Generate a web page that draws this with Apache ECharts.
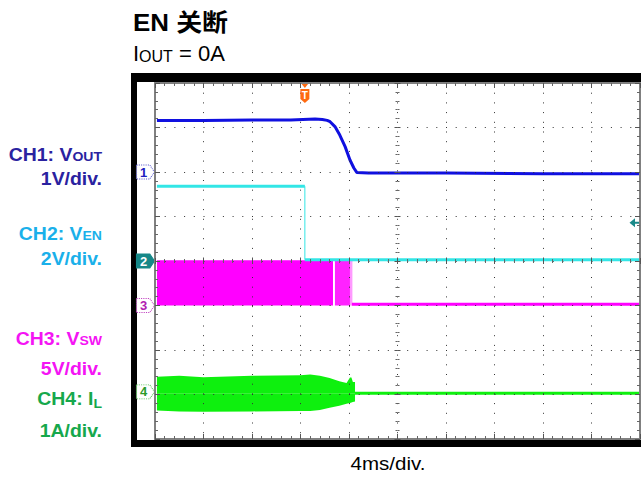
<!DOCTYPE html>
<html><head><meta charset="utf-8">
<script src="https://cdn.jsdelivr.net/npm/echarts@6/dist/echarts.min.js"></script>
<style>html,body{margin:0;padding:0;background:#fff}#c{width:641px;height:477px}</style>
</head><body><div id="c"></div>
<script>
// Time in divisions (-5 .. 5, 4 ms/div); levels in screen divisions (-4 .. 4)
const chRef = [2.0, 0.0, -1.0, -2.94];            // channel ground markers 1..4

const ch1Time  = [-4.96, -4.0, -3.0, -2.2, -1.7, -1.55, -1.45, -1.39, -1.29, -1.19, -1.08, -0.98, -0.90, -0.84, -0.6, 1.0, 3.0, 4.99];
const ch1Level = [3.16, 3.16, 3.17, 3.17, 3.19, 3.18, 3.16, 3.13, 3.02, 2.83, 2.57, 2.27, 2.09, 1.99, 1.98, 1.98, 1.96, 1.96];

const ch2Time  = [-4.96, -1.91, -1.91, 4.99];
const ch2Level = [1.68, 1.68, 0.03, 0.03];
const trigTime = -1.91, trigLevel = 0.86;

const ch3BandTime  = [-4.96, -1.33];
const ch3BandTop   = [0.0, 0.0];
const ch3PulseTime = [-1.29, -0.98];
const ch3PulseTop  = [0.0, 0.0];
const ch3FadeTime  = [-0.98, -0.93];
const ch3FadeTop   = [0.0, 0.0];
const ch3LowTime   = [-0.94, 4.99];
const ch3Low       = [-0.97, -0.97];

const ch4Time   = [-4.96, -4.5, -4.0, -3.0, -2.0, -1.8, -1.6, -1.4, -1.2, -1.05, -0.98, -0.95, -0.92, -0.876];
const ch4Top    = [-2.60, -2.58, -2.61, -2.58, -2.57, -2.55, -2.58, -2.63, -2.70, -2.74, -2.62, -2.62, -2.72, -2.72];
const ch4Bottom = [-3.36, -3.38, -3.39, -3.38, -3.37, -3.37, -3.35, -3.30, -3.25, -3.21, -3.19, -3.18, -3.17, -3.16];
const ch4Mid    = -2.97;
const ch4FlatTime = [-0.876, 4.99];
const ch4Flat     = [-2.97, -2.97];

const zip = (a, b) => a.map((v, i) => [v, b[i]]);

const FONT = '"Liberation Sans", Arial, "Noto Sans CJK SC", sans-serif';
const C1 = '#1010e0', C2 = '#33e6e6', C3 = '#ff00ff', C4 = '#0ef00e';
const L1 = '#2a22a0', L2 = '#1ab0ea', L3 = '#f414f4', L4 = '#16a84c';

function xA(pos, center, inside, grid) {
  return {
    type: 'value', min: -5, max: 5, interval: 1, position: pos, z: 5,
    axisLine: { show: true, onZero: center, lineStyle: { color: '#808080', width: 2, opacity: center ? 0 : 1 } },
    axisTick: { show: true, inside: inside, length: center ? 3 : 5, lineStyle: { color: '#555' } },
    minorTick: { show: true, splitNumber: 5, length: center ? 2 : 3, lineStyle: { color: '#666' } },
    axisLabel: { show: false },
    splitLine: { show: !!grid, lineStyle: { color: '#333', width: 1, type: [1, 8.7] } }
  };
}
function yA(pos, center, inside, grid) {
  return {
    type: 'value', min: -4, max: 4, interval: 1, position: pos, z: 5,
    axisLine: { show: true, onZero: center, lineStyle: { color: '#808080', width: 2, opacity: center ? 0 : 1 } },
    axisTick: { show: true, inside: inside, length: center ? 3 : 5, lineStyle: { color: '#555' } },
    minorTick: { show: true, splitNumber: 5, length: center ? 2 : 3, lineStyle: { color: '#666' } },
    axisLabel: { show: false },
    splitLine: { show: !!grid, lineStyle: { color: '#333', width: 1, type: [1, 8.7] } }
  };
}

const pent = 'path://M0,0 L14,0 L19,7 L14,14 L0,14 Z';
function chMarker(idx, fill, border, txt) {
  return {
    coord: [-5, chRef[idx]], symbol: pent, symbolSize: [18, 14], symbolOffset: [-9.5, 0],
    itemStyle: { color: fill, borderColor: border, borderWidth: 1, borderType: fill === '#fff' ? 'dotted' : 'solid' },
    label: { show: true, formatter: String(idx + 1), color: txt, fontSize: 13, fontWeight: 'bold', fontFamily: FONT, offset: [-2, 0] }
  };
}

function lbl(text, y, color, rich) {
  const st = { text: text, fill: color, fontSize: 18, fontWeight: 'bold', fontFamily: FONT, align: 'right', verticalAlign: 'middle' };
  if (rich) st.rich = rich;
  return { type: 'text', x: 102, y: y, scaleX: 1.08, z: 20, style: st };
}
function subRich(color) {
  return {
    a: { fontSize: 18, fontWeight: 'bold', fontFamily: FONT, fill: color, color: color, verticalAlign: 'bottom' },
    s: { fontSize: 13, fontWeight: 'bold', fontFamily: FONT, fill: color, color: color, verticalAlign: 'bottom' },
    l: { fontSize: 13, fontWeight: 'bold', fontFamily: FONT, fill: color, color: color, verticalAlign: 'bottom', padding: [0, 0, -3, 0] }
  };
}

const chart = echarts.init(document.getElementById('c'), null, { renderer: 'svg' });
chart.setOption({
  animation: false,
  backgroundColor: '#ffffff',
  grid: { left: 155, right: 1, top: 83, bottom: 38, containLabel: false },
  xAxis: [xA('bottom', false, true, true), xA('top', false, true, false), xA('bottom', true, true, false), xA('bottom', true, false, false)],
  yAxis: [yA('left', false, true, true), yA('right', false, true, false), yA('left', true, true, false), yA('left', true, false, false)],
  graphic: [
    { type: 'rect', z: -10, shape: { x: 131, y: 73, width: 510, height: 374 }, style: { fill: '#000' } },
    { type: 'rect', z: -9, shape: { x: 137, y: 82, width: 504, height: 358 }, style: { fill: '#fff' } },
    { type: 'text', x: 133, y: 22, scaleX: 1.08, z: 20, style: { text: 'EN 关断', fill: '#000', fontSize: 24, fontWeight: 'bold', fontFamily: FONT, align: 'left', verticalAlign: 'middle' } },
    { type: 'text', x: 133, y: 53, z: 20, style: { text: '{a|I}{s|OUT}{a| = 0A}', fill: '#000', align: 'left', verticalAlign: 'middle',
        rich: { a: { fontSize: 22, fontFamily: FONT, fill: '#000', verticalAlign: 'bottom' }, s: { fontSize: 16, fontFamily: FONT, fill: '#000', verticalAlign: 'bottom' } } } },
    { type: 'text', x: 388, y: 463, scaleX: 1.08, z: 20, style: { text: '4ms/div.', fill: '#000', fontSize: 19, fontFamily: FONT, align: 'center', verticalAlign: 'middle' } },
    lbl('{a|CH1: V}{s|OUT}', 154.5, L1, subRich(L1)),
    lbl('1V/div.', 178.5, L1),
    lbl('{a|CH2: V}{s|EN}', 233.5, L2, subRich(L2)),
    lbl('2V/div.', 258.5, L2),
    lbl('{a|CH3: V}{s|SW}', 338.5, L3, subRich(L3)),
    lbl('5V/div.', 368.5, L3),
    lbl('{a|CH4: I}{l|L}', 398.5, L4, subRich(L4)),
    lbl('1A/div.', 430.5, L4)
  ],
  series: [
    { type: 'line', name: 'CH3 band', data: zip(ch3BandTime, ch3BandTop), showSymbol: false, z: 2,
      lineStyle: { color: C3, width: 1.5 }, areaStyle: { color: C3, opacity: 1, origin: chRef[2] },
      markPoint: { data: [chMarker(2, '#fff', '#c040c0', '#b020b0')] } },
    { type: 'line', name: 'CH3 pulses', data: zip(ch3PulseTime, ch3PulseTop), showSymbol: false, z: 2,
      lineStyle: { color: '#ff22ff', width: 1 }, areaStyle: { color: '#ff22ff', opacity: 1, origin: chRef[2] } },
    { type: 'line', name: 'CH3 fade', data: zip(ch3FadeTime, ch3FadeTop), showSymbol: false, z: 2,
      lineStyle: { color: '#ff99ff', width: 1 }, areaStyle: { color: '#ff99ff', opacity: 1, origin: chRef[2] } },
    { type: 'line', name: 'CH3', data: zip(ch3LowTime, ch3Low), showSymbol: false, z: 2,
      lineStyle: { color: C3, width: 3 } },
    { type: 'line', name: 'CH4 top', data: zip(ch4Time, ch4Top), showSymbol: false, z: 2,
      lineStyle: { width: 0 }, areaStyle: { color: C4, opacity: 1, origin: ch4Mid } },
    { type: 'line', name: 'CH4 bottom', data: zip(ch4Time, ch4Bottom), showSymbol: false, z: 2,
      lineStyle: { width: 0 }, areaStyle: { color: C4, opacity: 1, origin: ch4Mid } },
    { type: 'line', name: 'CH4', data: zip(ch4FlatTime, ch4Flat), showSymbol: false, z: 2,
      lineStyle: { color: C4, width: 3 },
      markPoint: { data: [chMarker(3, '#fff', '#50c050', '#2a9a2a')] } },
    { type: 'line', name: 'CH2 high', data: zip(ch2Time.slice(0, 2), ch2Level.slice(0, 2)), showSymbol: false, z: 3,
      lineStyle: { color: C2, width: 3 } },
    { type: 'line', name: 'CH2 edge', data: zip(ch2Time.slice(1, 3), ch2Level.slice(1, 3)), showSymbol: false, z: 3,
      lineStyle: { color: C2, width: 1 } },
    { type: 'line', name: 'CH2 low', data: zip(ch2Time.slice(2), ch2Level.slice(2)), showSymbol: false, z: 3,
      lineStyle: { color: C2, width: 3 },
      markPoint: { data: [
        chMarker(1, '#168888', '#168888', '#ffffff'),
        { coord: [trigTime, 4], symbol: 'path://M0,0 L10,0 L10,10 L5,14 L0,10 Z', symbolSize: [9, 14], symbolOffset: [0, 13],
          itemStyle: { color: '#ff6a10' }, label: { show: true, formatter: 'T', color: '#fff', fontSize: 10, fontWeight: 'bold', offset: [0, -1] } },
        { coord: [trigTime, 4], symbol: 'triangle', symbolRotate: 180, symbolSize: [8, 5], symbolOffset: [0, 2.5],
          itemStyle: { color: '#ff6a10' }, label: { show: false } },
        { coord: [5, trigLevel], symbol: 'path://M0,5 L6,0 L6,10 Z M6,4 L12,4 L12,6 L6,6 Z', symbolSize: [11, 9], symbolOffset: [-5, 0],
          itemStyle: { color: '#1a8a8a' }, label: { show: false } }
      ] } },
    { type: 'line', name: 'CH1', data: zip(ch1Time, ch1Level), showSymbol: false, z: 4, smooth: false,
      lineStyle: { color: C1, width: 3 },
      markPoint: { data: [chMarker(0, '#fff', '#6060d0', '#2020c0')] } }
  ]
});
</script>
</body></html>
